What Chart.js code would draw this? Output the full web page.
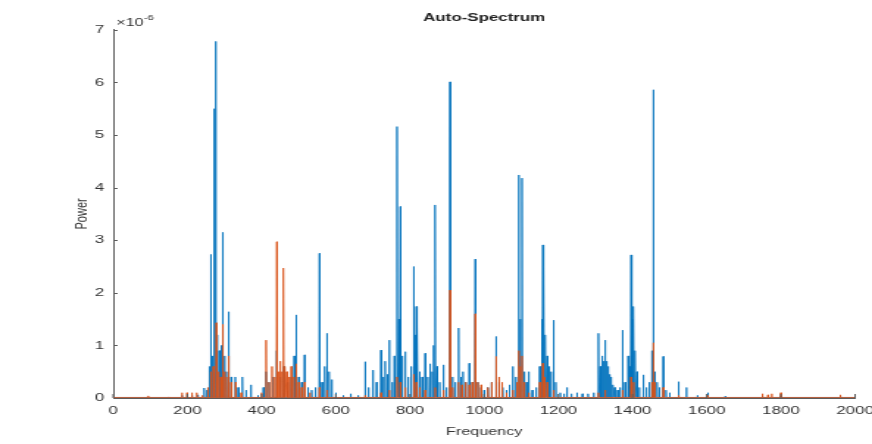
<!DOCTYPE html>
<html>
<head>
<meta charset="utf-8">
<title>Auto-Spectrum</title>
<script src="https://cdn.jsdelivr.net/npm/chart.js@4.4.1/dist/chart.umd.min.js"></script>
<style>
  html, body { margin: 0; padding: 0; background: #fff; overflow: hidden; }
  /* figure is rendered narrow and stretched sideways like the exported plot */
  #spectrum { display: block; transform: scaleX(1.4705); transform-origin: 0 0; }
</style>
</head>
<body>
<canvas id="spectrum" width="593" height="444"></canvas>
<script>
// Tick labels
const freqTicks = [0, 200, 400, 600, 800, 1000, 1200, 1400, 1600, 1800, 2000];
const powerTicks = [0, 1, 2, 3, 4, 5, 6, 7];
const POWER_EXP = -6; // power values below are in units of 10^-6

// Channel 1 (blue): spectral peaks, frequency and power
const blueFreq = [94, 185, 212, 228, 245, 252, 259, 263, 267, 272, 276, 280, 286, 291, 295, 300, 305, 311, 318, 329,
  337, 348, 358, 371, 390, 405, 412, 420, 430, 441, 450, 460, 470, 480, 488, 493, 500, 508, 516, 525,
  535, 545, 556, 563, 570, 576, 582, 589, 600, 620, 640, 660, 679, 688, 700, 710, 722, 728, 733, 739,
  744, 752, 758, 765, 770, 774, 779, 787, 795, 803, 810, 814, 817, 820, 826, 833, 841, 848, 854, 860,
  864, 868, 873, 880, 890, 898, 908, 915, 922, 931, 937, 943, 950, 960, 968, 976, 983, 992, 1000, 1010,
  1020, 1032, 1040, 1050, 1060, 1068, 1077, 1085, 1093, 1097, 1102, 1108, 1114, 1120, 1130, 1140, 1150, 1155, 1158, 1161,
  1165, 1170, 1175, 1180, 1187, 1193, 1205, 1215, 1223, 1235, 1250, 1265, 1280, 1295, 1308, 1313, 1318, 1322, 1326, 1330,
  1334, 1338, 1342, 1347, 1352, 1360, 1366, 1373, 1380, 1388, 1392, 1396, 1400, 1403, 1407, 1412, 1418, 1429, 1437, 1445,
  1452, 1456, 1460, 1466, 1472, 1483, 1490, 1500, 1524, 1545, 1575, 1603, 1650, 1750, 1800, 1960];
const bluePower = [0.02, 0.05, 0.05, 0.06, 0.19, 0.15, 0.6, 2.73, 0.8, 5.5, 6.78, 1.2, 0.9, 1.0, 3.15, 0.8, 0.5, 1.64, 0.4, 0.4,
  0.2, 0.4, 0.15, 0.25, 0.05, 0.2, 0.5, 0.3, 0.4, 0.9, 0.4, 0.6, 0.3, 0.4, 0.8, 1.58, 0.4, 0.3, 0.82, 0.2,
  0.15, 0.2, 2.75, 0.3, 0.6, 1.23, 0.5, 0.35, 0.1, 0.05, 0.08, 0.05, 0.69, 0.2, 0.53, 0.3, 0.91, 0.4, 0.7, 0.45,
  1.1, 0.3, 0.8, 5.16, 1.5, 3.64, 0.8, 0.88, 0.4, 0.6, 2.5, 1.2, 1.74, 1.4, 0.5, 0.4, 0.85, 0.4, 0.65, 0.5,
  1.0, 3.67, 0.6, 0.3, 0.63, 0.2, 6.01, 0.4, 0.3, 1.33, 0.4, 0.5, 0.3, 0.66, 0.3, 2.64, 0.3, 0.2, 0.15, 0.2,
  0.3, 1.17, 0.3, 0.2, 0.15, 0.25, 0.6, 0.4, 4.24, 1.5, 4.18, 0.5, 0.3, 0.5, 0.15, 0.2, 0.6, 1.5, 2.91, 2.5,
  1.2, 0.8, 0.6, 0.5, 1.48, 0.3, 0.1, 0.08, 0.2, 0.08, 0.1, 0.08, 0.08, 0.1, 1.23, 0.6, 0.8, 0.7, 1.1, 0.7,
  0.6, 0.45, 0.4, 0.25, 0.2, 0.15, 0.2, 1.29, 0.3, 0.8, 0.6, 2.72, 1.5, 1.74, 0.9, 0.5, 0.2, 0.44, 0.2, 0.3,
  0.9, 5.86, 0.5, 0.3, 0.2, 0.79, 0.15, 0.1, 0.31, 0.2, 0.05, 0.1, 0.03, 0.03, 0.04, 0.04];

// Channel 2 (orange): spectral peaks, frequency and power
const orangeFreq = [94, 150, 185, 199, 212, 225, 240, 255, 263, 270, 278, 284, 290, 295, 300, 305, 311, 318, 330, 345,
  400, 412, 420, 428, 435, 441, 446, 450, 455, 459, 463, 468, 474, 480, 487, 493, 500, 508, 516, 530,
  556, 576, 679, 722, 744, 765, 774, 787, 810, 817, 826, 841, 868, 890, 908, 915, 931, 940, 950, 960,
  968, 976, 983, 992, 1010, 1020, 1032, 1040, 1048, 1060, 1077, 1088, 1093, 1097, 1102, 1108, 1120, 1150, 1158, 1163,
  1170, 1187, 1308, 1326, 1373, 1396, 1403, 1452, 1456, 1460, 1483, 1524, 1603, 1750, 1765, 1775, 1800, 1960];
const orangePower = [0.04, 0.02, 0.1, 0.1, 0.1, 0.1, 0.05, 0.2, 0.5, 0.6, 1.43, 0.5, 0.4, 1.4, 0.5, 0.4, 0.8, 0.3, 0.3, 0.1,
  0.1, 1.1, 0.3, 0.6, 0.4, 2.97, 0.5, 0.7, 0.5, 2.47, 0.6, 0.5, 0.4, 0.6, 0.4, 0.65, 0.3, 0.2, 0.3, 0.1,
  0.2, 0.15, 0.05, 0.1, 0.15, 0.4, 0.3, 0.2, 0.45, 0.3, 0.2, 0.15, 0.2, 0.15, 2.05, 0.2, 0.3, 0.25, 0.3, 0.25,
  0.3, 1.6, 0.3, 0.25, 0.2, 0.3, 0.79, 0.4, 0.3, 0.1, 0.15, 0.3, 0.9, 0.6, 0.8, 0.3, 0.1, 0.3, 0.66, 0.4,
  0.3, 0.15, 0.1, 0.15, 0.15, 0.4, 0.3, 0.3, 1.05, 0.3, 0.2, 0.05, 0.05, 0.08, 0.06, 0.08, 0.1, 0.06];

const NOISE_FLOOR = 0.01;

const textColor = '#333333';
const axisColor = '#5c5c5c';
const fontFamily = '"Liberation Sans", Arial, Helvetica, sans-serif';

// each peak becomes a narrow spike rising out of the noise floor
function spikes(freq, power) {
  const pts = [{ x: 0, y: NOISE_FLOOR }];
  freq.forEach((f, i) => {
    pts.push({ x: f - 1, y: NOISE_FLOOR }, { x: f, y: power[i] }, { x: f + 1, y: NOISE_FLOOR });
  });
  pts.push({ x: 2000, y: NOISE_FLOOR });
  return pts;
}

// inward tick marks and the exponent label above the power axis
const axisDecor = {
  id: 'axisDecor',
  afterDraw(chart) {
    const { ctx, chartArea: a, scales: { x, y } } = chart;
    ctx.save();
    ctx.strokeStyle = axisColor;
    ctx.lineWidth = 1;
    ctx.beginPath();
    powerTicks.forEach(v => {
      const py = Math.round(y.getPixelForValue(v)) + 0.5;
      ctx.moveTo(a.left, py);
      ctx.lineTo(a.left + 3, py);
    });
    freqTicks.forEach(v => {
      const px = x.getPixelForValue(v);
      ctx.moveTo(px, a.bottom);
      ctx.lineTo(px, a.bottom - 4);
    });
    ctx.stroke();

    ctx.fillStyle = textColor;
    ctx.textAlign = 'left';
    ctx.textBaseline = 'alphabetic';
    ctx.font = '11px ' + fontFamily;
    ctx.fillText('\u00d710', a.left + 2, a.top - 4);
    const w = ctx.measureText('\u00d710').width;
    ctx.font = '8px ' + fontFamily;
    ctx.fillText(String(POWER_EXP), a.left + 2 + w, a.top - 10);
    ctx.restore();
  }
};

const ctx = document.getElementById('spectrum').getContext('2d');

new Chart(ctx, {
  type: 'line',
  data: {
    datasets: [
      {
        label: 'Channel 1',
        data: spikes(blueFreq, bluePower),
        borderColor: '#0072BD',
        borderWidth: 0.8,
        pointRadius: 0,
        tension: 0,
        order: 1
      },
      {
        label: 'Channel 2',
        data: spikes(orangeFreq, orangePower),
        borderColor: '#D95319',
        borderWidth: 0.8,
        pointRadius: 0,
        tension: 0,
        order: 0
      }
    ]
  },
  options: {
    responsive: false,
    animation: false,
    layout: { padding: { left: 0, right: 11.5, top: 0, bottom: 0 } },
    plugins: {
      legend: { display: false },
      tooltip: { enabled: false },
      title: {
        display: true,
        fullSize: false,
        text: 'Auto-Spectrum',
        color: '#222222',
        font: { family: fontFamily, size: 11.5, weight: 'bold' },
        padding: { top: 11, bottom: 5 }
      }
    },
    scales: {
      x: {
        type: 'linear',
        min: 0,
        max: 2000,
        grid: { display: false, drawTicks: false },
        border: { display: true, color: axisColor, width: 1 },
        ticks: {
          stepSize: 200,
          autoSkip: false,
          maxRotation: 0,
          padding: 6,
          color: textColor,
          font: { family: fontFamily, size: 11.5 },
          callback: v => String(v)
        },
        title: {
          display: true,
          text: 'Frequency',
          color: textColor,
          font: { family: fontFamily, size: 11 },
          padding: { top: 0, bottom: 5 }
        },
        afterFit(scale) {
          scale.height = 46;
          scale.paddingLeft = 0;
          scale.paddingRight = 0;
        }
      },
      y: {
        min: 0,
        max: 7,
        grid: { display: false, drawTicks: false },
        border: { display: true, color: axisColor, width: 1 },
        ticks: {
          stepSize: 1,
          padding: 6,
          color: textColor,
          font: { family: fontFamily, size: 11.5 },
          callback: v => String(v)
        },
        title: {
          display: true,
          text: 'Power',
          color: textColor,
          font: { family: fontFamily, size: 11 },
          padding: { top: 49, bottom: 0 }
        },
        afterFit(scale) { scale.width = 77; }
      }
    }
  },
  plugins: [axisDecor]
});
</script>
</body>
</html>
